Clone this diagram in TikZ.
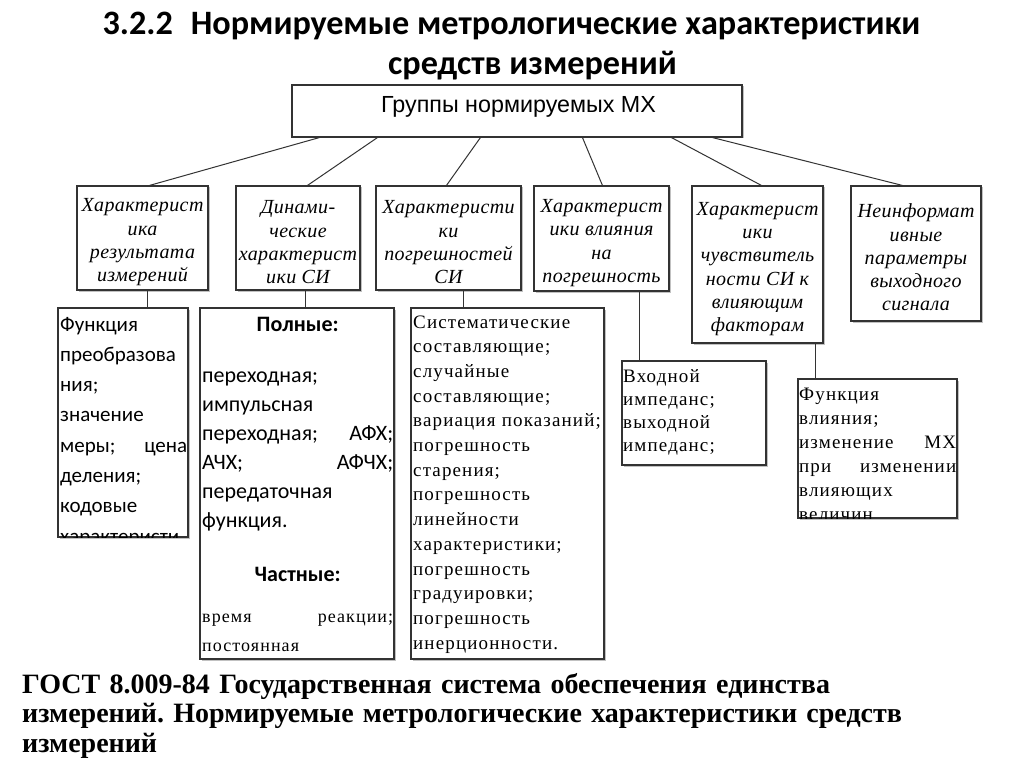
\documentclass[tikz,border=0pt]{standalone}
\usepackage{fontspec}
\setmainfont{Liberation Serif}
\newfontfamily\titlefont{Carlito}
\newfontfamily\calfont{Carlito}
\newfontfamily\arialfont{Liberation Sans}
\newfontfamily\serifsp[LetterSpace=6]{Liberation Serif}
\newfontfamily\catfont[LetterSpace=2]{Liberation Serif}
\usetikzlibrary{calc,shadows}
\frenchspacing
\tikzset{
  box/.style={draw=black!80, line width=1.1pt, fill=white, rectangle, inner sep=0pt,
    drop shadow={shadow xshift=1.5pt, shadow yshift=-1.5pt, fill=black!40, opacity=0.6}},
  cat/.style={box, align=center, font=\catfont\itshape\fontsize{20}{23.3}\selectfont},
  link/.style={draw=black!80, line width=1pt},
  titletext/.style={font=\titlefont\bfseries\fontsize{34.2}{40}\selectfont, inner sep=0pt},
  calstyle/.style={font=\calfont\fontsize{21}{30.3}\selectfont, align=left, inner sep=0pt},
  serstyle/.style={font=\serifsp\fontsize{19}{24.7}\selectfont, align=left, inner sep=0pt},
}
\newcommand\catstrut{\rule{0pt}{22pt}}
\begin{document}
\begin{tikzpicture}[x=1pt,y=-1pt]
\useasboundingbox (0,0) rectangle (1024,767);
\fill[white] (0,0) rectangle (1024,767);

% title
\node[titletext, anchor=base] (t1) at (511.5,35) {3.2.2\hspace{18pt}Нормируемые метрологические характеристики};
\node[titletext, anchor=base] (t2) at (532.5,75) {средств измерений};

% top box
\node[box, minimum width=450, minimum height=52] (top) at (517,111) {};
\node[font=\arialfont\fontsize{23.3}{28}\selectfont, anchor=base, inner sep=0pt] (toplabel) at (518.5,113) {Группы нормируемых МХ};

% category boxes
\node[cat, minimum width=131, minimum height=104] (c1) at (142.5,238) {\catstrut Характерист\\ика\\результата\\измерений};
\node[cat, minimum width=124, minimum height=104] (c2) at (298,238) {\catstrut Динами-\\ческие\\характерист\\ики СИ};
\node[cat, minimum width=145, minimum height=104] (c3) at (448.5,238) {\catstrut Характеристи\\ки\\погрешностей\\СИ};
\node[cat, minimum width=135, minimum height=105] (c4) at (601.5,238.5) {\catstrut Характерист\\ики влияния\\на\\погрешность};
\node[cat, minimum width=131, minimum height=157] (c5) at (757.5,264.5) {\catstrut Характерист\\ики\\чувствитель\\ности СИ к\\влияющим\\факторам};
\node[cat, minimum width=130, minimum height=135] (c6) at (916,253.5) {\catstrut Неинформат\\ивные\\параметры\\выходного\\сигнала};

% lower boxes
\node[box, minimum width=130, minimum height=229] (A) at (123,422.5) {};
\node[box, minimum width=194, minimum height=351] (B) at (297,483.5) {};
\node[box, minimum width=193, minimum height=351] (C) at (507.5,483.5) {};
\node[box, minimum width=144, minimum height=104] (D) at (694,413) {};
\node[box, minimum width=159, minimum height=139] (E) at (877.5,448.5) {};

% connectors from top box
\draw[link] ($(top.south west)+(28,0)$) -- ($(c1.north west)+(73,0)$);
\draw[link] ($(top.south west)+(86,0)$) -- ($(c2.north west)+(72,0)$);
\draw[link] ($(top.south west)+(189,0)$) -- ($(c3.north west)+(71,0)$);
\draw[link] ($(top.south west)+(291,0)$) -- ($(c4.north west)+(69,0)$);
\draw[link] ($(top.south west)+(380,0)$) -- ($(c5.north west)+(70,0)$);
\draw[link] ($(top.south west)+(421,0)$) -- ($(c6.north west)+(52,0)$);

% vertical connectors
\coordinate (v1) at ($(c1.south west)+(71,0)$);
\coordinate (v2) at ($(c2.south west)+(70,0)$);
\coordinate (v3) at ($(c3.south west)+(88,0)$);
\coordinate (v4) at ($(c4.south west)+(106,0)$);
\coordinate (v5) at ($(c5.south west)+(124,0)$);
\draw[link] (v1) -- (v1 |- A.north);
\draw[link] (v2) -- (v2 |- B.north);
\draw[link] (v3) -- (v3 |- C.north);
\draw[link] (v4) -- (v4 |- D.north);
\draw[link] (v5) -- (v5 |- E.north);

% texts of lower boxes
\begin{scope}
\clip (A.north west) rectangle (A.south east);
\node[calstyle, anchor=base west, text width=127] (Atext) at (60,331) {Функция\\преобразова\\ния;\\значение\\меры;\hfill цена\\деления;\\кодовые\\характеристи};
\end{scope}

\node[calstyle, font=\calfont\fontsize{22}{29}\selectfont, anchor=base west, text width=191] (Btext) at (202,331) {\hfill{\bfseries Полные:}\hfill\null\\[22pt]переходная;\\импульсная\\переходная;\hfill АФХ;\\АЧХ;\hfill АФЧХ;\\передаточная\\функция.\\[25pt]\hfill{\bfseries Частные:}\hfill\null\\[12pt]{\serifsp\fontsize{18}{29}\selectfont время\hfill реакции;}\\{\serifsp\fontsize{18}{29}\selectfont постоянная}};

\node[serstyle, anchor=base west, text width=191] (Ctext) at (413,328) {Систематические\\составляющие;\\случайные\\составляющие;\\вариация показаний;\\погрешность\\старения;\\погрешность\\линейности\\характеристики;\\погрешность\\градуировки;\\погрешность\\инерционности.};

\node[serstyle, font=\serifsp\fontsize{19}{23.3}\selectfont, anchor=base west, text width=140] (Dtext) at (623,382) {Входной\\импеданс;\\выходной\\импеданс;};

\begin{scope}
\clip (E.north west) rectangle (E.south east);
\node[serstyle, font=\serifsp\fontsize{19}{24}\selectfont, anchor=base west, text width=157] (Etext) at (799,400) {Функция\\влияния;\\изменение\hfill МХ\\при\hfill изменении\\влияющих\\величин};
\end{scope}

% bottom text
\node[font=\bfseries\fontsize{28}{29.5}\selectfont, anchor=base west, align=left, text width=1000, inner sep=0pt] (gost) at (22,693) {ГОСТ 8.009-84 Государственная система обеспечения единства\\измерений. Нормируемые метрологические характеристики средств\\измерений};
\end{tikzpicture}
\end{document}
